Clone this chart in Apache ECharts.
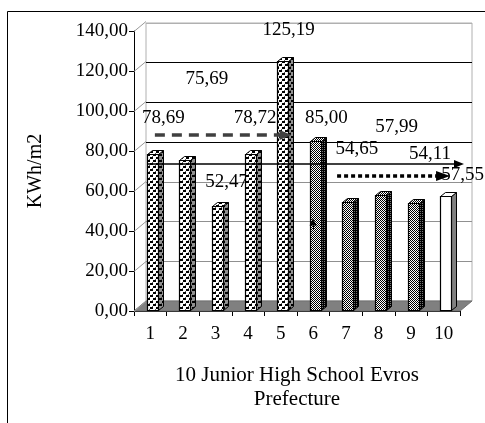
<!DOCTYPE html>
<html>
<head>
<meta charset="utf-8">
<script src="https://cdn.jsdelivr.net/npm/echarts@6/dist/echarts.min.js"></script>
<style>
  html, body { margin: 0; padding: 0; background: #fff; }
  #chart { width: 485px; height: 423px; }
</style>
</head>
<body>
<div id="chart"></div>
<script>
// Energy use per school (KWh/m2)
const schools = ['1', '2', '3', '4', '5', '6', '7', '8', '9', '10'];
const consumption = [78.69, 75.69, 52.47, 78.72, 125.19, 85.00, 54.65, 57.99, 54.11, 57.55];
const yTicks = [0, 20, 40, 60, 80, 100, 120, 140];

// Reference arrows in axis units: [from school position, to school position, level]
const dashedArrow = [0.64, 4.65, 88];
const solidArrow = [0.43, 9.97, 73.5];
const dottedArrow = [6.23, 9.48, 67.5];
const upArrow = [5.49, 40.5, 44.5];

// Fill family of each bar and where its value label sits (px from the bar top)
const fillKind = ['brick', 'brick', 'brick', 'brick', 'brick', 'check', 'check', 'check', 'check', 'plain'];
const labelShift = [[11, -36], [22, -81], [9, -24], [5, -36], [6, -31], [11, -23], [9, -53], [16, -68], [17, -49], [17, -21]];

const FONT = '"Liberation Serif", "Times New Roman", serif';
const DX = 12, DY = 10;          // depth of the back wall
const BDX = 5, BDY = 4;          // depth of each bar

const fmt = v => v.toFixed(2).replace('.', ',');

function tile(w, h, bg, draw) {
  const c = document.createElement('canvas');
  c.width = w; c.height = h;
  const g = c.getContext('2d');
  g.fillStyle = bg; g.fillRect(0, 0, w, h);
  draw(g);
  return { type: 'pattern', image: c, repeat: 'repeat' };
}
function brick(bg) {
  return tile(6, 6, bg, g => {
    g.fillStyle = '#000';
    g.fillRect(0, 1, 3, 2);
    g.fillRect(3, 4, 3, 2);
    g.fillStyle = '#606060';
    g.fillRect(2, 0, 1, 1);
    g.fillRect(5, 3, 1, 1);
  });
}
function checker(bg, extra) {
  return tile(2, 2, bg, g => {
    g.fillStyle = '#000';
    g.fillRect(0, 0, 1, 1);
    g.fillRect(1, 1, 1, 1);
    if (extra) g.fillRect(1, 0, 1, 1);
  });
}
const fills = {
  brick: { front: brick('#fff'), side: brick('#909090'), top: brick('#fff') },
  check: { front: checker('#fff'), side: checker('#777', true), top: checker('#fff') },
  plain: { front: '#fff', side: '#808080', top: '#fff' }
};

function renderFrame(params, api) {
  const cs = params.coordSys;
  const xL = cs.x, xR = cs.x + cs.width, yB = cs.y + cs.height;
  const children = [{
    type: 'polygon',
    shape: { points: [[xL, yB], [xR, yB], [xR + DX, yB - DY], [xL + DX, yB - DY]] },
    style: { fill: '#808080', stroke: '#707070', lineWidth: 1 }
  }];
  yTicks.forEach(t => {
    const y = Math.round(api.coord([0, t])[1]) + 0.5;
    children.push({
      type: 'line',
      shape: { x1: xL, y1: y, x2: xL + DX, y2: y - DY },
      style: { stroke: '#999', lineWidth: 1 }
    });
  });
  return { type: 'group', children };
}

function renderBar(params, api) {
  const i = api.value(0), v = api.value(1);
  const top = api.coord([i, v]);
  const base = api.coord([i, 0]);
  const cx = top[0] + 2;
  const w = 11;
  const x0 = Math.round(cx - w / 2) + 0.5, x1 = x0 + w;
  const yT = Math.round(top[1]) + 0.5, yB = Math.round(base[1]) - 0.5;
  const f = fills[fillKind[i]];
  const shift = labelShift[i];
  return {
    type: 'group',
    children: [
      {
        type: 'text',
        style: {
          text: fmt(v), x: cx + shift[0], y: top[1] + shift[1],
          align: 'center', verticalAlign: 'middle',
          fontSize: 19, fontFamily: FONT, fill: '#000'
        }
      },
      {
        type: 'polygon',
        shape: { points: [[x1, yT], [x1 + BDX, yT - BDY], [x1 + BDX, yB - BDY], [x1, yB]] },
        style: { fill: f.side, stroke: '#000', lineWidth: 1 }
      },
      {
        type: 'polygon',
        shape: { points: [[x0, yT], [x0 + BDX, yT - BDY], [x1 + BDX, yT - BDY], [x1, yT]] },
        style: { fill: f.top, stroke: '#000', lineWidth: 1 }
      },
      {
        type: 'rect',
        shape: { x: x0, y: yT, width: w, height: yB - yT },
        style: { fill: f.front, stroke: '#000', lineWidth: 1.2 }
      }
    ]
  };
}

const arrow = (a, style, size) => [
  { coord: [a[0], a[2]], symbol: 'none', lineStyle: style },
  { coord: [a[1], a[2]], symbol: 'triangle', symbolSize: size }
];

const chart = echarts.init(document.getElementById('chart'), null, { renderer: 'canvas' });
chart.setOption({
  animation: false,
  backgroundColor: '#fff',
  textStyle: { fontFamily: FONT, color: '#000' },
  graphic: [{
    type: 'rect', z: -10,
    shape: { x: 7.5, y: 11.5, width: 520, height: 500 },
    style: { fill: 'none', stroke: '#000', lineWidth: 1 }
  }],
  grid: [
    { left: 134, right: 25, top: 31, bottom: 112 },
    { left: 146, right: 13, top: 23, bottom: 122, show: true, borderColor: '#b0b0b0', borderWidth: 1, backgroundColor: 'transparent' }
  ],
  xAxis: [
    {
      gridIndex: 0, type: 'category', data: schools,
      axisLine: { lineStyle: { color: '#000', width: 1 } },
      axisTick: { show: true, length: 5, lineStyle: { color: '#000' } },
      axisLabel: { fontSize: 19, fontFamily: FONT, color: '#000', margin: 14 },
      splitLine: { show: false },
      name: '10 Junior High School Evros\nPrefecture',
      nameLocation: 'middle', nameGap: 52,
      nameTextStyle: { fontSize: 21, fontFamily: FONT, color: '#000', lineHeight: 24 }
    },
    { gridIndex: 0, type: 'value', min: 0, max: 10, show: false },
    { gridIndex: 1, type: 'value', min: 0, max: 10, show: false }
  ],
  yAxis: [
    {
      gridIndex: 0, type: 'value', min: 0, max: 140, interval: 20,
      axisLine: { show: true, lineStyle: { color: '#000', width: 1 } },
      axisTick: { show: true, length: 5, lineStyle: { color: '#000' } },
      axisLabel: { fontSize: 19, fontFamily: FONT, color: '#000', margin: 6, formatter: v => fmt(v) },
      splitLine: { show: false },
      name: 'KWh/m2', nameLocation: 'middle', nameGap: 88, nameRotate: 90,
      nameTextStyle: { fontSize: 20, fontFamily: FONT, color: '#000' }
    },
    {
      gridIndex: 1, type: 'value', min: 0, max: 140, interval: 20,
      axisLine: { show: false }, axisTick: { show: false }, axisLabel: { show: false },
      splitLine: { show: true, lineStyle: { width: 1, color: ['#a0a0a0', '#909090', '#909090', '#909090', '#000', '#000', '#000', '#b0b0b0'] } }
    }
  ],
  series: [
    {
      type: 'custom', name: 'frame', xAxisIndex: 0, yAxisIndex: 0, z: 1, silent: true,
      clip: false, renderItem: renderFrame, data: [[0, 0]]
    },
    {
      type: 'custom', name: 'KWh/m2', xAxisIndex: 0, yAxisIndex: 0, z: 3,
      clip: false, renderItem: renderBar,
      data: consumption.map((v, i) => [i, v])
    },
    {
      type: 'line', name: 'arrows', xAxisIndex: 1, yAxisIndex: 0, z: 5, data: [],
      markLine: {
        silent: true, animation: false, z: 5,
        label: { show: false },
        symbol: ['none', 'triangle'],
        data: [
          arrow(dashedArrow, { color: '#404040', width: 3.5, type: [10, 7] }, [10, 12]),
          arrow(solidArrow, { color: '#000', width: 1.5, type: 'solid' }, [8, 10]),
          arrow(dottedArrow, { color: '#000', width: 3.5, type: [4, 3] }, [10, 14]),
          [
            { coord: [upArrow[0], upArrow[1]], symbol: 'none', lineStyle: { color: '#000', width: 1, type: 'solid' } },
            { coord: [upArrow[0], upArrow[2]], symbol: 'triangle', symbolSize: [7, 7] }
          ]
        ]
      }
    }
  ]
});
</script>
</body>
</html>
